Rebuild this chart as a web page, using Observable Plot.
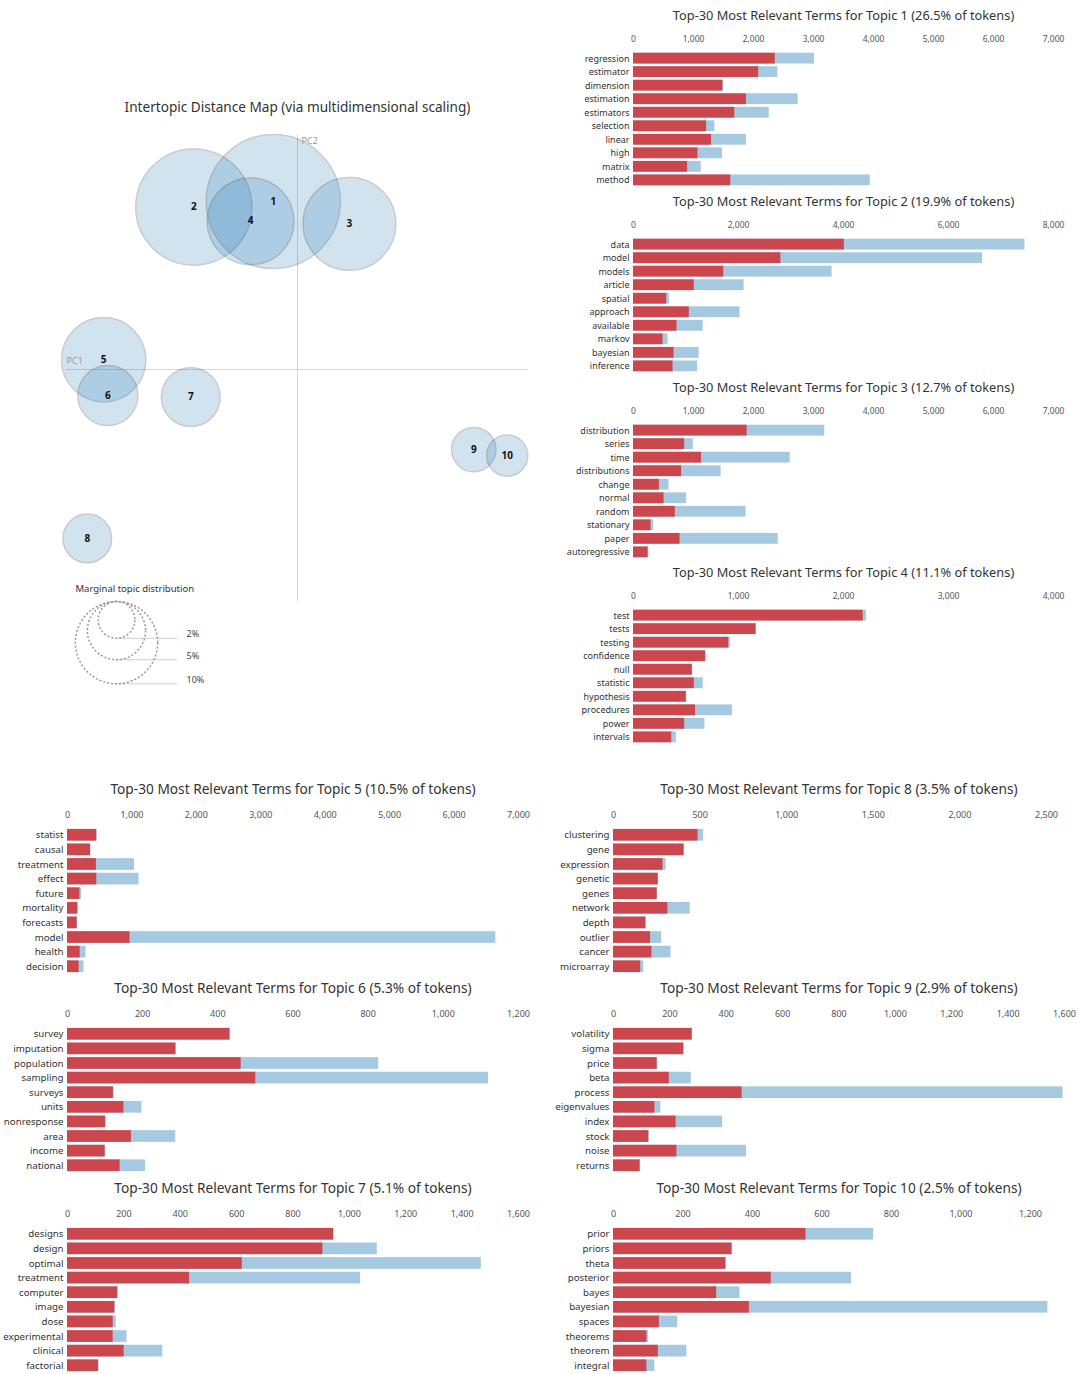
<!DOCTYPE html>
<html>
<head>
<meta charset="utf-8">
<script src="https://cdn.jsdelivr.net/npm/d3@7"></script>
<script src="https://cdn.jsdelivr.net/npm/@observablehq/plot@0.6"></script>
<style>
  html, body { margin: 0; padding: 0; background: #fff; }
  #root { position: relative; width: 1080px; height: 1374px; background: #fff; overflow: hidden; }
  #root svg { position: absolute; }
</style>
</head>
<body>
<div id="root"></div>
<script>
// ---------------- DATA ----------------
const topicIds   = [1, 2, 3, 4, 5, 6, 7, 8, 9, 10];
const topicShare = [26.5, 19.9, 12.7, 11.1, 10.5, 5.3, 5.1, 3.5, 2.9, 2.5];
const topicPC1   = [-0.105, -0.449, 0.225, -0.203, -0.839, -0.821, -0.462, -0.910, 0.763, 0.908];
const topicPC2   = [0.724, 0.700, 0.628, 0.639, 0.042, -0.112, -0.119, -0.728, -0.345, -0.371];
const legendShares = [2, 5, 10];

const terms1 = ["regression", "estimator", "dimension", "estimation", "estimators", "selection", "linear", "high", "matrix", "method"];
const freq1  = [2363, 2086, 1489, 1882, 1688, 1217, 1300, 1074, 902, 1621];
const total1 = [3016, 2407, 1505, 2745, 2263, 1356, 1882, 1483, 1129, 3946];

const terms2 = ["data", "model", "models", "article", "spatial", "approach", "available", "markov", "bayesian", "inference"];
const freq2  = [4016, 2808, 1720, 1157, 632, 1063, 829, 563, 772, 753];
const total2 = [7457, 6648, 3782, 2106, 683, 2030, 1328, 658, 1250, 1221];

const terms3 = ["distribution", "series", "time", "distributions", "change", "normal", "random", "stationary", "paper", "autoregressive"];
const freq3  = [1893, 852, 1134, 802, 432, 509, 697, 293, 775, 243];
const total3 = [3188, 996, 2612, 1461, 592, 885, 1876, 338, 2413, 255];

const terms4 = ["test", "tests", "testing", "confidence", "null", "statistic", "hypothesis", "procedures", "power", "intervals"];
const freq4  = [2188, 1167, 907, 686, 560, 579, 503, 591, 487, 364];
const total4 = [2220, 1170, 923, 690, 564, 664, 506, 942, 680, 408];

const terms5 = ["statist", "causal", "treatment", "effect", "future", "mortality", "forecasts", "model", "health", "decision"];
const freq5  = [454, 358, 448, 454, 192, 160, 150, 971, 197, 181];
const total5 = [458, 362, 1040, 1110, 219, 163, 153, 6648, 288, 256];

const terms6 = ["survey", "imputation", "population", "sampling", "surveys", "units", "nonresponse", "area", "income", "national"];
const freq6  = [432, 288, 462, 501, 122, 150, 101, 170, 100, 140];
const total6 = [434, 290, 828, 1120, 124, 198, 103, 288, 102, 208];

const terms7 = ["designs", "design", "optimal", "treatment", "computer", "image", "dose", "experimental", "clinical", "factorial"];
const freq7  = [944, 906, 620, 433, 178, 168, 162, 162, 201, 110];
const total7 = [946, 1099, 1468, 1040, 180, 170, 173, 211, 338, 112];

const terms8 = ["clustering", "gene", "expression", "genetic", "genes", "network", "depth", "outlier", "cancer", "microarray"];
const freq8  = [488, 407, 286, 258, 252, 314, 187, 214, 222, 157];
const total8 = [520, 409, 304, 260, 254, 443, 189, 278, 332, 175];

const terms9 = ["volatility", "sigma", "price", "beta", "process", "eigenvalues", "index", "stock", "noise", "returns"];
const freq9  = [279, 249, 155, 198, 456, 147, 222, 125, 225, 94];
const total9 = [281, 251, 157, 276, 1595, 168, 387, 127, 472, 96];

const terms10 = ["prior", "priors", "theta", "posterior", "bayes", "bayesian", "spaces", "theorems", "theorem", "integral"];
const freq10  = [554, 341, 323, 454, 297, 391, 132, 96, 129, 96];
const total10 = [749, 343, 325, 685, 364, 1250, 185, 101, 211, 119];

const xMaxByTopic  = [7000, 8000, 7000, 4000, 7000, 1200, 1600, 2604, 1600, 1298];
const tickStepByTopic = [1000, 2000, 1000, 1000, 1000, 200, 200, 500, 200, 200];

const termsAll = [terms1, terms2, terms3, terms4, terms5, terms6, terms7, terms8, terms9, terms10];
const freqAll  = [freq1, freq2, freq3, freq4, freq5, freq6, freq7, freq8, freq9, freq10];
const totalAll = [total1, total2, total3, total4, total5, total6, total7, total8, total9, total10];

const mapTitle = "Intertopic Distance Map (via multidimensional scaling)";
const legendTitle = "Marginal topic distribution";

// ---------------- LAYOUT / STYLE ----------------
const FONT = '"Noto Sans", "Open Sans", sans-serif';
const BLUE = "#1f77b4", RED = "#d62728";
const root = document.getElementById("root");
function place(svg, left, top) {
  svg.style.left = left + "px";
  svg.style.top = top + "px";
  svg.style.background = "none";
  svg.style.maxWidth = "none";
  root.appendChild(svg);
}

const geom = {
  tr: {left: 540, width: 540, height: 190, ml: 93, mr: 27, mt: 50, mb: 2, titleDy: -40, termSize: 9, tickSize: 8.5, titleSize: 12.8},
  bl: {left: 0,   width: 540, height: 200, ml: 67, mr: 22, mt: 51, mb: 0, titleDy: -42, termSize: 9.7, tickSize: 9, titleSize: 13.7},
  br: {left: 540, width: 540, height: 200, ml: 73, mr: 16, mt: 51, mb: 0, titleDy: -42, termSize: 9.7, tickSize: 9, titleSize: 13.7}
};
const panels = [
  {t: 0, g: "tr", top: 0}, {t: 1, g: "tr", top: 186}, {t: 2, g: "tr", top: 372}, {t: 3, g: "tr", top: 557},
  {t: 4, g: "bl", top: 775}, {t: 5, g: "bl", top: 974}, {t: 6, g: "bl", top: 1174},
  {t: 7, g: "br", top: 775}, {t: 8, g: "br", top: 974}, {t: 9, g: "br", top: 1174}
];

// ---------------- MAP ----------------
const topics = topicIds.map((id, i) => ({id, share: topicShare[i], pc1: topicPC1[i], pc2: topicPC2[i]}));
const rOpts = {type: "sqrt", domain: [0, 26.5], range: [0, 67]};

const mapPlot = Plot.plot({
  width: 540, height: 700,
  marginLeft: 66, marginRight: 12, marginTop: 137, marginBottom: 99,
  style: {fontFamily: FONT, background: "none"},
  x: {domain: [-1, 1], axis: null},
  y: {domain: [-1, 1], axis: null},
  r: rOpts,
  marks: [
    Plot.ruleY([0], {x1: -1, x2: 1, stroke: "#d4d4d4"}),
    Plot.ruleX([0], {y1: -1, y2: 1.01, stroke: "#d4d4d4"}),
    Plot.dot(topics, {x: "pc1", y: "pc2", r: "share", fill: BLUE, stroke: "black", opacity: 0.2}),
    Plot.text(topics, {x: "pc1", y: "pc2", text: "id", fontWeight: "bold", fontSize: 10, fill: "#111"}),
    Plot.text(["PC1"], {x: -1, y: 0, text: d => d, textAnchor: "start", dy: -8, fill: "#999", fontSize: 9}),
    Plot.text(["PC2"], {x: 0, y: 1, text: d => d, textAnchor: "start", dx: 4, dy: 4, fill: "#999", fontSize: 9}),
    Plot.text([mapTitle], {frameAnchor: "top", text: d => d, dy: -35, fontSize: 13.6, fill: "#333"})
  ]
});
place(mapPlot, 0, 0);

// legend
const rs = d3.scaleSqrt().domain(rOpts.domain).range(rOpts.range);
const legTop = 26;
const legend = legendShares.map(s => ({s, cy: legTop + rs(s), by: legTop + 2 * rs(s), label: s + "%"}));
const legendPlot = Plot.plot({
  width: 230, height: 120,
  margin: 0,
  style: {fontFamily: FONT, background: "none"},
  x: {type: "identity", axis: null}, y: {type: "identity", axis: null},
  r: rOpts,
  marks: [
    Plot.text([legendTitle], {x: 75, y: 13, text: d => d, textAnchor: "start", fontSize: 9.5, fill: "#333"}),
    Plot.ruleY(legend, {y: "by", x1: 116, x2: 177, stroke: "#d0d0d0"}),
    Plot.dot(legend, {x: 116, y: "cy", r: "s", stroke: "#999", strokeDasharray: "2,2", fill: "none"}),
    Plot.text(legend, {x: 186, y: "by", text: "label", dy: -4, textAnchor: "start", fontSize: 9, fill: "#444"})
  ]
});
place(legendPlot, 0, 575);

// ---------------- BAR PANELS ----------------
for (const p of panels) {
  const g = geom[p.g];
  const i = p.t;
  const data = termsAll[i].map((term, k) => ({term, freq: freqAll[i][k], total: totalAll[i][k]}));
  const title = `Top-30 Most Relevant Terms for Topic ${topicIds[i]} (${topicShare[i]}% of tokens)`;
  const ticks = d3.range(0, xMaxByTopic[i] + 1, tickStepByTopic[i]);
  const svg = Plot.plot({
    width: g.width, height: g.height,
    marginLeft: g.ml, marginRight: g.mr, marginTop: g.mt, marginBottom: g.mb,
    style: {fontFamily: FONT, background: "none"},
    x: {domain: [0, xMaxByTopic[i]], axis: null},
    y: {domain: termsAll[i], padding: 0.2, round: false, axis: null},
    marks: [
      Plot.barX(data, {y: "term", x: "total", fill: BLUE, fillOpacity: 0.4}),
      Plot.barX(data, {y: "term", x: "freq", fill: RED, fillOpacity: 0.8}),
      Plot.axisX({anchor: "top", ticks, tickSize: 0, tickPadding: 9, tickFormat: d3.format(","), label: null, fontSize: g.tickSize, fill: "#555"}),
      Plot.axisY({anchor: "left", tickSize: 0, tickPadding: 4, label: null, fontSize: g.termSize, fill: "#333"}),
      Plot.text([title], {frameAnchor: "top", text: d => d, dy: g.titleDy, fontSize: g.titleSize, fill: "#333"})
    ]
  });
  place(svg, g.left, p.top);
}
</script>
</body>
</html>
